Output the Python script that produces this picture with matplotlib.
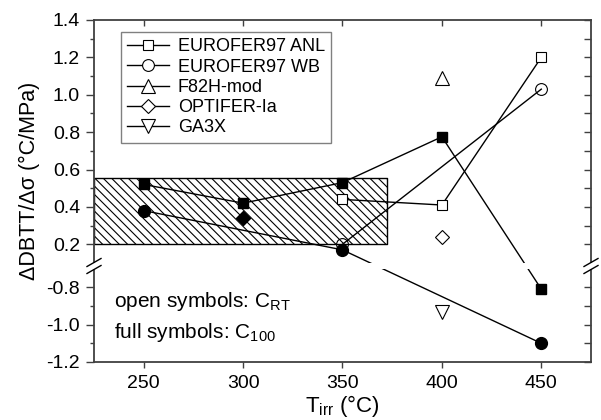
import numpy as np
import matplotlib
matplotlib.use("Agg")
import matplotlib.pyplot as plt
from matplotlib.lines import Line2D
from matplotlib.patches import Rectangle
from matplotlib import ticker

plt.rcParams["font.family"] = ["Liberation Sans", "DejaVu Sans"]
plt.rcParams["mathtext.fontset"] = "custom"
plt.rcParams["mathtext.rm"] = "Liberation Sans"
plt.rcParams["mathtext.it"] = "Liberation Sans:italic"
plt.rcParams["hatch.linewidth"] = 0.8
plt.rcParams["axes.unicode_minus"] = False

# data
temps = [250, 300, 350, 400, 450]
anl_full = [0.52, 0.42, 0.53, 0.775, -0.81]
anl_open_t = [350, 400, 450]
anl_open = [0.44, 0.41, 1.20]
wb_full_t = [250, 350, 450]
wb_full = [0.38, 0.17, -1.10]
wb_open_t = [350, 450]
wb_open = [0.20, 1.03]
f82h_t = [400]
f82h_open = [1.09]
optifer_full_t = [300]
optifer_full = [0.34]
optifer_open_t = [400]
optifer_open = [0.24]
ga3x_t = [400]
ga3x_open = [-0.93]

band_x = [225, 372.5]
band_y = [0.2, 0.555]

labels = ["EUROFER97 ANL", "EUROFER97 WB", "F82H-mod", "OPTIFER-Ia", "GA3X"]
markers = ["s", "o", "^", "D", "v"]
msizes = [7.2, 8.5, 9.5, 7.2, 9.5]

yticks_major = [-1.2, -1.0, -0.8, 0.2, 0.4, 0.6, 0.8, 1.0, 1.2, 1.4]
yticks_minor = [-1.1, -0.9, 0.3, 0.5, 0.7, 0.9, 1.1, 1.3]
xticks = [250, 300, 350, 400, 450]


# broken y axis: -0.8 .. 0 squeezed into a small gap
def fwd(y):
    y = np.asarray(y, dtype=float)
    return np.where(y >= 0, y, np.where(y <= -0.8, y + 0.77, -0.03 + (y + 0.8) * 0.0375))


def inv(m):
    m = np.asarray(m, dtype=float)
    return np.where(m >= 0, m, np.where(m <= -0.03, m - 0.77, -0.8 + (m + 0.03) / 0.0375))


def setup_y(a):
    a.set_yscale("function", functions=(fwd, inv))
    a.set_ylim(-1.2, 1.4)
    a.yaxis.set_major_locator(ticker.FixedLocator(yticks_major))
    a.yaxis.set_minor_locator(ticker.FixedLocator(yticks_minor))


fig = plt.figure(figsize=(6.01, 4.2), dpi=100)
ax = fig.add_axes([94 / 601, 58 / 420, 497 / 601, 342 / 420])
setup_y(ax)
ax.set_xlim(225, 475)
ax.set_xticks(xticks)
ax.yaxis.set_major_formatter(ticker.FormatStrFormatter("%.1f"))
ax.yaxis.set_minor_formatter(ticker.NullFormatter())

spine_col = "#404040"
for s in ax.spines.values():
    s.set_color(spine_col)
    s.set_linewidth(1.3)

ax.tick_params(axis="y", which="major", direction="out", length=6, width=1, color=spine_col,
               labelsize=14, pad=4)
ax.tick_params(axis="y", which="minor", direction="out", length=3, width=1, color=spine_col)
ax.tick_params(axis="x", which="major", direction="out", length=4, width=1, color=spine_col,
               labelsize=14, pad=5)

# mirrored ticks on top and right, pointing inward
tx = ax.twinx()
setup_y(tx)
tx.tick_params(axis="y", which="both", direction="in", length=5, width=1, color=spine_col,
               labelright=False)
ty = ax.twiny()
ty.set_xlim(225, 475)
ty.set_xticks(xticks)
ty.tick_params(axis="x", direction="in", length=4, width=1, color=spine_col, labeltop=False)
for t in (tx, ty):
    for s in t.spines.values():
        s.set_visible(False)

# hatched scatter band
ax.fill_between(band_x, band_y[0], band_y[1], facecolor="white", edgecolor="black",
                hatch="\\\\\\\\", linewidth=1.0, zorder=1)

lw = 1.0
ax.plot(temps, anl_full, color="black", lw=lw, marker="s", ms=msizes[0], mfc="black", mec="black", zorder=3)
ax.plot(anl_open_t, anl_open, color="black", lw=lw, marker="s", ms=msizes[0], mfc="white", mec="black", mew=0.8, zorder=3)
ax.plot(wb_full_t, wb_full, color="black", lw=lw, marker="o", ms=msizes[1], mfc="black", mec="black", zorder=3)
ax.plot(wb_open_t, wb_open, color="black", lw=lw, marker="o", ms=msizes[1], mfc="none", mec="black", mew=0.8, zorder=3)
ax.plot(f82h_t, f82h_open, ls="none", marker="^", ms=msizes[2], mfc="white", mec="black", mew=0.8, zorder=3)
ax.plot(optifer_full_t, optifer_full, ls="none", marker="D", ms=msizes[3], mfc="black", mec="black", zorder=3)
ax.plot(optifer_open_t, optifer_open, ls="none", marker="D", ms=msizes[3], mfc="white", mec="black", mew=0.8, zorder=3)
ax.plot(ga3x_t, ga3x_open, ls="none", marker="v", ms=msizes[4], mfc="white", mec="black", mew=0.8, zorder=3)


# axis break (pixel positions of the reference figure -> axes fractions)
def fx(px):
    return (px - 94) / 497


def fy(py):
    return (362 - py) / 342


ax.add_patch(Rectangle((fx(82), fy(269)), fx(603) - fx(82), fy(263) - fy(269),
                       transform=ax.transAxes, facecolor="white", edgecolor="none",
                       clip_on=False, zorder=6))
for xc in (94, 591):
    for yc in (262.5, 269.5):
        ax.add_line(Line2D([fx(xc - 7), fx(xc + 7)], [fy(yc + 4), fy(yc - 4)],
                           transform=ax.transAxes, color="black", lw=1.0,
                           clip_on=False, zorder=7))

handles = [Line2D([], [], color="black", lw=lw, marker=m, ms=s, mfc="white", mec="black", mew=0.8)
           for m, s in zip(markers, msizes)]
leg = ax.legend(handles, labels, loc="upper left", bbox_to_anchor=(fx(121), fy(32)),
                borderaxespad=0, fontsize=13, frameon=True, fancybox=False,
                handlelength=2.3, handletextpad=0.5, labelspacing=0.18,
                borderpad=0.35, edgecolor="#606060")
leg.get_frame().set_linewidth(1.0)
leg.set_zorder(8)

ax.text(fx(114), fy(307), "open symbols: C$_\\mathrm{RT}$", transform=ax.transAxes, fontsize=15)
ax.text(fx(114), fy(338), "full symbols: C$_\\mathrm{100}$", transform=ax.transAxes, fontsize=15)

ax.set_xlabel("T$_\\mathrm{irr}$ (°C)", fontsize=16, labelpad=1)
ax.set_ylabel("ΔDBTT/Δσ (°C/MPa)", fontsize=15.5)
ax.yaxis.set_label_coords(fx(40), fy(181))

fig.savefig("out.png", dpi=100)
